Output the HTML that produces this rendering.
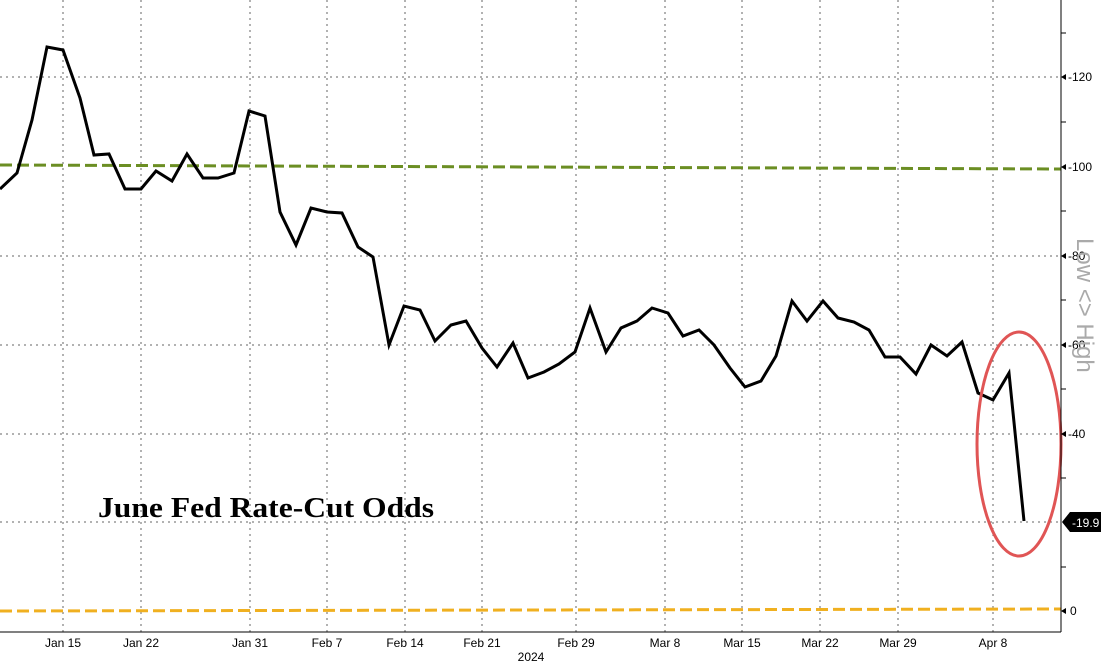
<!DOCTYPE html>
<html><head><style>
body{margin:0;background:#fff;width:1101px;height:664px;overflow:hidden}
</style></head><body>
<svg width="1101" height="664" xmlns="http://www.w3.org/2000/svg" font-family="Liberation Sans, sans-serif">
<g stroke="#666" stroke-width="1" stroke-dasharray="2,4">
<line x1="0" y1="77" x2="1061" y2="77"/><line x1="0" y1="256" x2="1061" y2="256"/>
<line x1="0" y1="345" x2="1061" y2="345"/><line x1="0" y1="434" x2="1061" y2="434"/>
<line x1="0" y1="522" x2="1061" y2="522"/>
<line x1="63" y1="0" x2="63" y2="632"/><line x1="141" y1="0" x2="141" y2="632"/>
<line x1="250" y1="0" x2="250" y2="632"/><line x1="327" y1="0" x2="327" y2="632"/>
<line x1="405" y1="0" x2="405" y2="632"/><line x1="482" y1="0" x2="482" y2="632"/>
<line x1="576" y1="0" x2="576" y2="632"/><line x1="665" y1="0" x2="665" y2="632"/>
<line x1="742" y1="0" x2="742" y2="632"/><line x1="820" y1="0" x2="820" y2="632"/>
<line x1="898" y1="0" x2="898" y2="632"/><line x1="993" y1="0" x2="993" y2="632"/>
</g>
<line x1="0" y1="165" x2="1061" y2="169" stroke="#6b8e23" stroke-width="3" stroke-dasharray="12,5"/>
<line x1="0" y1="611" x2="1061" y2="609" stroke="#f0b020" stroke-width="3" stroke-dasharray="12,5"/>
<polyline fill="none" stroke="#000" stroke-width="3" stroke-linejoin="miter" points="0,189 17,173 32,120 47,47 63,50 80,98 94,155 109,154 125,189 141,189 156,171 172,181 187,154 203,178 218,178 234,173 249,111 265,116 280,212 296,245 311,208 327,212 342,213 358,247 373,257 389,345 404,306 420,310 435,341 451,325 466,321 482,348 497,367 513,343 528,378 544,372 559,364 575,352 590,308 606,352 621,328 637,321 652,308 668,313 683,336 699,330 714,345 730,368 745,387 761,381 776,356 792,301 807,321 823,301 838,318 854,322 869,330 885,357 900,357 916,374 931,345 947,356 962,342 978,393 993,400 1009,373 1024,521"/>
<ellipse cx="1019" cy="444" rx="42" ry="112" fill="none" stroke="#e05555" stroke-width="3"/>
<line x1="1061" y1="0" x2="1061" y2="632" stroke="#000"/>
<line x1="0" y1="632" x2="1061" y2="632" stroke="#000"/>
<g stroke="#000">
<line x1="1061" y1="33" x2="1066" y2="33"/><line x1="1061" y1="122" x2="1066" y2="122"/>
<line x1="1061" y1="211" x2="1066" y2="211"/><line x1="1061" y1="300" x2="1066" y2="300"/>
<line x1="1061" y1="389" x2="1066" y2="389"/><line x1="1061" y1="478" x2="1066" y2="478"/>
<line x1="1061" y1="567" x2="1066" y2="567"/>
</g>
<g fill="#000">
<polygon points="1061,77 1066,74 1066,80"/><polygon points="1061,167 1066,164 1066,170"/>
<polygon points="1061,256 1066,253 1066,259"/><polygon points="1061,345 1066,342 1066,348"/>
<polygon points="1061,434 1066,431 1066,437"/><polygon points="1061,611 1066,608 1066,614"/>
</g>
<g font-size="12" fill="#000">
<text x="1068" y="81">-120</text><text x="1068" y="171">-100</text><text x="1068" y="260">-80</text>
<text x="1068" y="349">-60</text><text x="1068" y="438">-40</text><text x="1070" y="615">0</text>
</g>
<polygon points="1062,522 1070,512 1101,512 1101,532 1070,532" fill="#000"/>
<text x="1072" y="527" font-size="12" fill="#fff">-19.9</text>
<text transform="translate(1077,238) rotate(90)" font-size="24" fill="#aaa">Low &lt;&gt; High</text>
<g font-size="12" fill="#000" text-anchor="middle">
<text x="63" y="647">Jan 15</text><text x="141" y="647">Jan 22</text><text x="250" y="647">Jan 31</text>
<text x="327" y="647">Feb 7</text><text x="405" y="647">Feb 14</text><text x="482" y="647">Feb 21</text>
<text x="576" y="647">Feb 29</text><text x="665" y="647">Mar 8</text><text x="742" y="647">Mar 15</text>
<text x="820" y="647">Mar 22</text><text x="898" y="647">Mar 29</text><text x="993" y="647">Apr 8</text>
<text x="531" y="661">2024</text>
</g>
<text x="98" y="517" font-family="Liberation Serif, serif" font-weight="bold" font-size="28" textLength="336" lengthAdjust="spacingAndGlyphs" fill="#000">June Fed Rate-Cut Odds</text>
</svg>
</body></html>
